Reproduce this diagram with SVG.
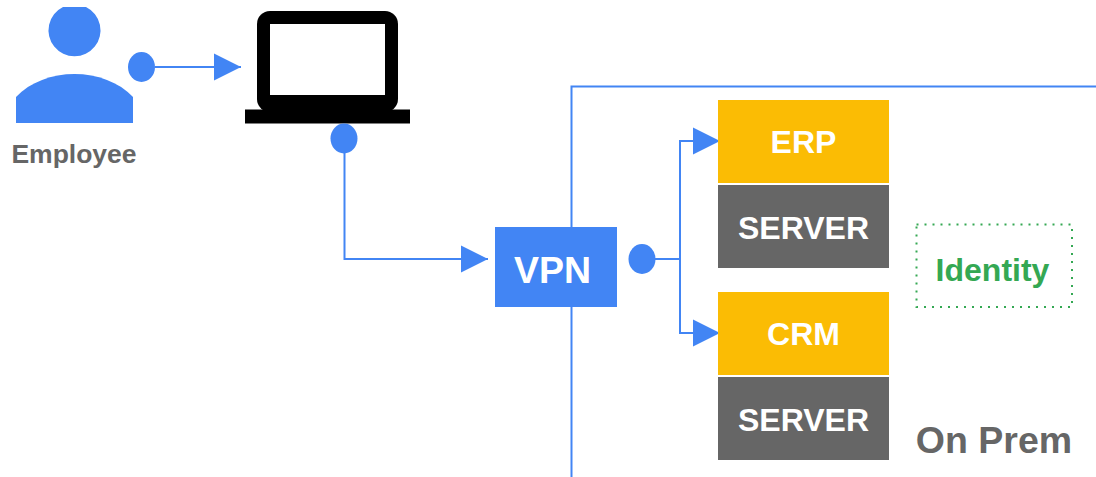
<svg xmlns="http://www.w3.org/2000/svg" width="1096" height="477" viewBox="0 0 1096 477">
<style>
.t{font-family:"Liberation Sans",Arial,sans-serif;font-weight:700;text-anchor:middle}
.w{fill:#fff;font-size:32px}
.b{fill:#4285f4}
.l{fill:none;stroke:#4285f4;stroke-width:2}
.y{fill:#fbbc04}
.g{fill:#666}
</style>
<defs>
<marker id="a" markerUnits="userSpaceOnUse" markerWidth="28" markerHeight="28" refX="27" refY="14" orient="auto"><path d="M0 0.5L27 14L0 27.5Z" fill="#4285f4"/></marker>
</defs>
<rect width="1096" height="477" fill="#fff"/>
<g id="connectors">
<path class="l" d="M155 67H241" marker-end="url(#a)"/>
<path class="l" d="M344.500 153V259H488" marker-end="url(#a)"/>
<path class="l" d="M655 259H680"/>
<path class="l" d="M680 259V141H720" marker-end="url(#a)"/>
<path class="l" d="M680 259V333H720" marker-end="url(#a)"/>
<path class="l" d="M571.500 227V86.500H1096"/>
<path class="l" d="M571.500 307V477"/>
</g>
<g id="employee">
<path class="b" d="M63 7H86A26 26 0 1 1 63 7Z"/>
<path class="b" d="M16 123V97C30 82 52 74 74.500 74C97 74 119 82 133 97V123Z"/>
<text class="t" x="74" y="163" font-size="26.500" fill="#666">Employee</text>
</g>
<g id="laptop">
<rect x="257" y="11" width="141" height="101" rx="13" fill="#000"/>
<rect x="270" y="24" width="115" height="71" fill="#fff"/>
<rect x="245" y="109.500" width="165" height="14" fill="#000"/>
</g>
<g id="dot1"><ellipse class="b" cx="141.500" cy="67" rx="13.500" ry="15"/></g>
<g id="dot2"><ellipse class="b" cx="344" cy="138.500" rx="13.500" ry="15"/></g>
<g id="dot3"><ellipse class="b" cx="642" cy="259" rx="13.500" ry="15"/></g>
<g id="vpn">
<rect class="b" x="495" y="227" width="122" height="80"/>
<text class="t w" x="552.500" y="283" style="font-size:37.500px">VPN</text>
</g>
<g id="erp">
<rect class="y" x="718" y="100" width="171" height="83"/>
<text class="t w" x="803.500" y="153">ERP</text>
</g>
<g id="server1">
<rect class="g" x="718" y="185" width="171" height="83"/>
<text class="t w" x="803.500" y="239">SERVER</text>
</g>
<g id="crm">
<rect class="y" x="718" y="292" width="171" height="83"/>
<text class="t w" x="803.500" y="345">CRM</text>
</g>
<g id="server2">
<rect class="g" x="718" y="377" width="171" height="83"/>
<text class="t w" x="803.500" y="431">SERVER</text>
</g>
<g id="identity">
<rect x="916.500" y="224.500" width="155.500" height="82.500" fill="none" stroke="#34a853" stroke-width="2" stroke-dasharray="2 6"/>
<text class="t" x="992.500" y="281" font-size="32" fill="#34a853">Identity</text>
</g>
<g id="onprem">
<text class="t" x="994" y="453" font-size="37.500" fill="#666">On Prem</text>
</g>
</svg>
